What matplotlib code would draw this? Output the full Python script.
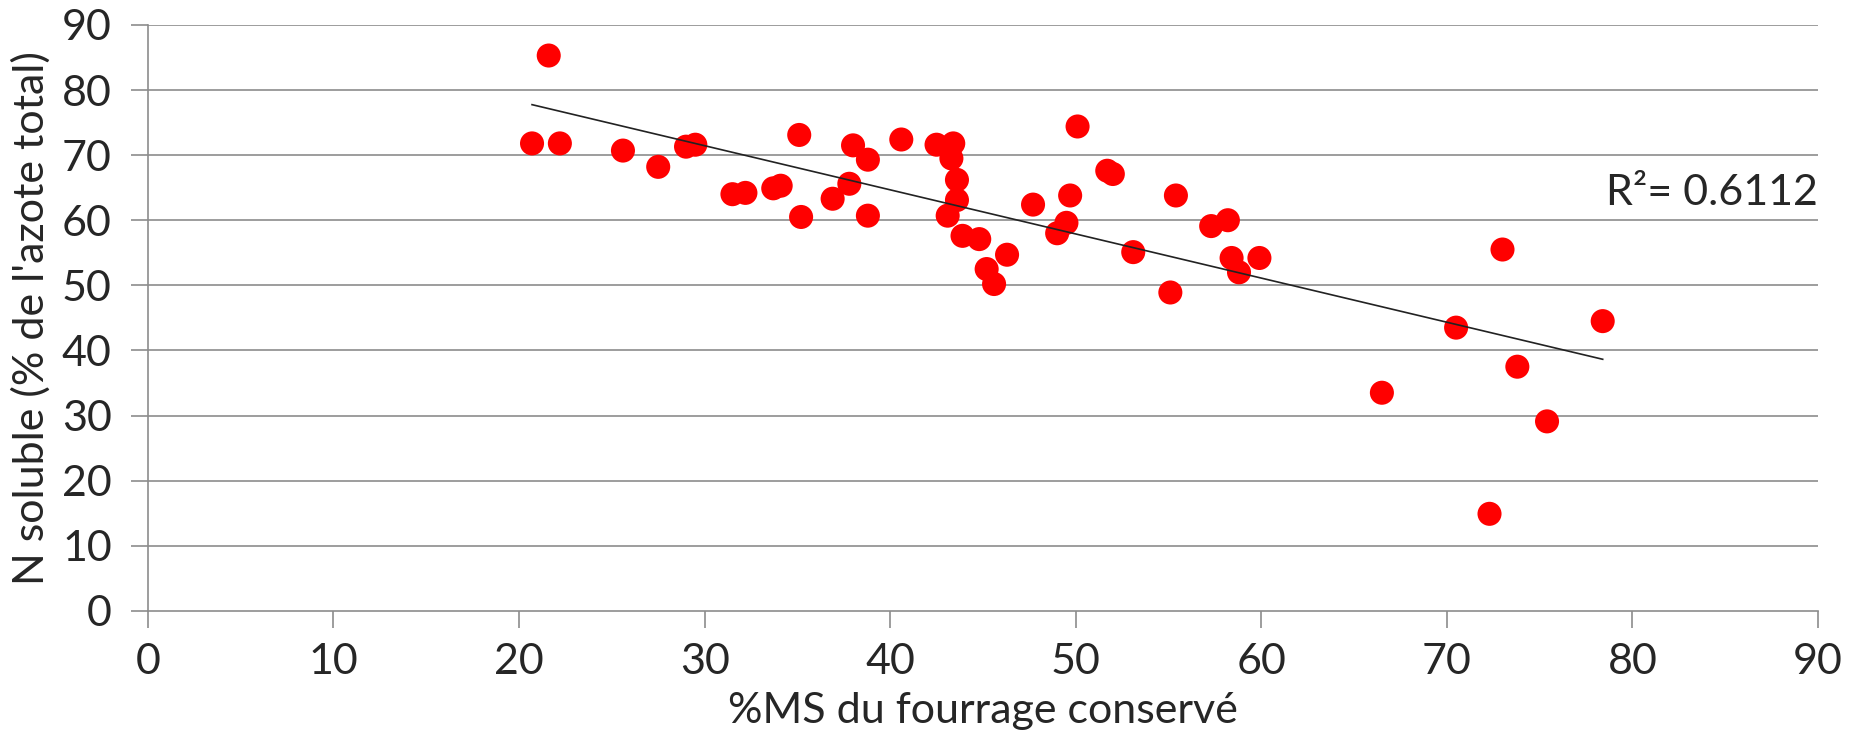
import matplotlib
matplotlib.use("Agg")
import matplotlib.pyplot as plt
import numpy as np

plt.rcParams['font.family'] = ['Lato', 'DejaVu Sans']

ms_pct = [20.7, 21.6, 22.2, 25.6, 27.5, 29.0, 29.5, 31.5, 32.2, 33.7, 34.1, 35.1, 35.2,
          36.9, 37.8, 38.0, 38.8, 38.8, 40.6, 42.5, 43.4, 43.3, 43.6, 43.6, 43.1, 43.9,
          44.8, 45.2, 45.6, 46.3, 47.7, 49.0, 49.5, 49.7, 50.1, 51.7, 52.0, 53.1, 55.1,
          55.4, 57.3, 58.2, 58.4, 58.8, 59.9, 66.5, 70.5, 72.3, 73.0, 73.8, 75.4, 78.4]
n_soluble = [71.8, 85.3, 71.8, 70.7, 68.2, 71.3, 71.6, 64.0, 64.2, 64.9, 65.3, 73.1, 60.5,
             63.3, 65.6, 71.5, 69.3, 60.7, 72.4, 71.6, 71.8, 69.5, 66.2, 63.1, 60.7, 57.6,
             57.1, 52.5, 50.2, 54.7, 62.4, 58.0, 59.6, 63.8, 74.4, 67.6, 67.1, 55.1, 48.9,
             63.8, 59.1, 60.0, 54.2, 52.0, 54.2, 33.5, 43.5, 14.9, 55.5, 37.5, 29.1, 44.5]
r2_label = "R²= 0.6112"
xlabel = "%MS du fourrage conservé"
ylabel = "N soluble (% de l'azote total)"
xticks = list(range(0, 91, 10))
yticks = list(range(0, 91, 10))

fig = plt.figure(figsize=(18.56, 7.42), dpi=100)
ax = fig.add_axes([0.0797, 0.1768, 0.8998, 0.7896])

grid_c = '#8c8c8c'
txt_c = '#262626'
ax.set_xlim(0, 90)
ax.set_ylim(0, 90)
ax.set_xticks(xticks)
ax.set_yticks(yticks)
for y in yticks[1:]:
    ax.axhline(y, color=grid_c, lw=1.2, zorder=1)

ax.scatter(ms_pct, n_soluble, s=300, color='#ff0000', edgecolors='none', zorder=3)

x = np.array(ms_pct)
yv = np.array(n_soluble)
a, b = np.polyfit(x, yv, 1)
xs = np.array([x.min(), x.max()])
ax.plot(xs, a * xs + b, color='#222222', lw=1.2, zorder=4)

ax.text(90, 64.2, r2_label, ha='right', va='center', fontsize=31, color=txt_c)

for s in ['top', 'right']:
    ax.spines[s].set_visible(False)
for s in ['left', 'bottom']:
    ax.spines[s].set_color(grid_c)
    ax.spines[s].set_linewidth(1.2)

ax.tick_params(axis='both', direction='out', length=12, width=1.2, color=grid_c,
               labelsize=31, labelcolor=txt_c)
ax.tick_params(axis='x', pad=11)
ax.tick_params(axis='y', pad=14)
ax.set_xlabel(xlabel, fontsize=31, color=txt_c, labelpad=8)
ax.set_ylabel(ylabel, fontsize=31, color=txt_c, labelpad=8)

fig.savefig('out.png', dpi=100, facecolor='white')
